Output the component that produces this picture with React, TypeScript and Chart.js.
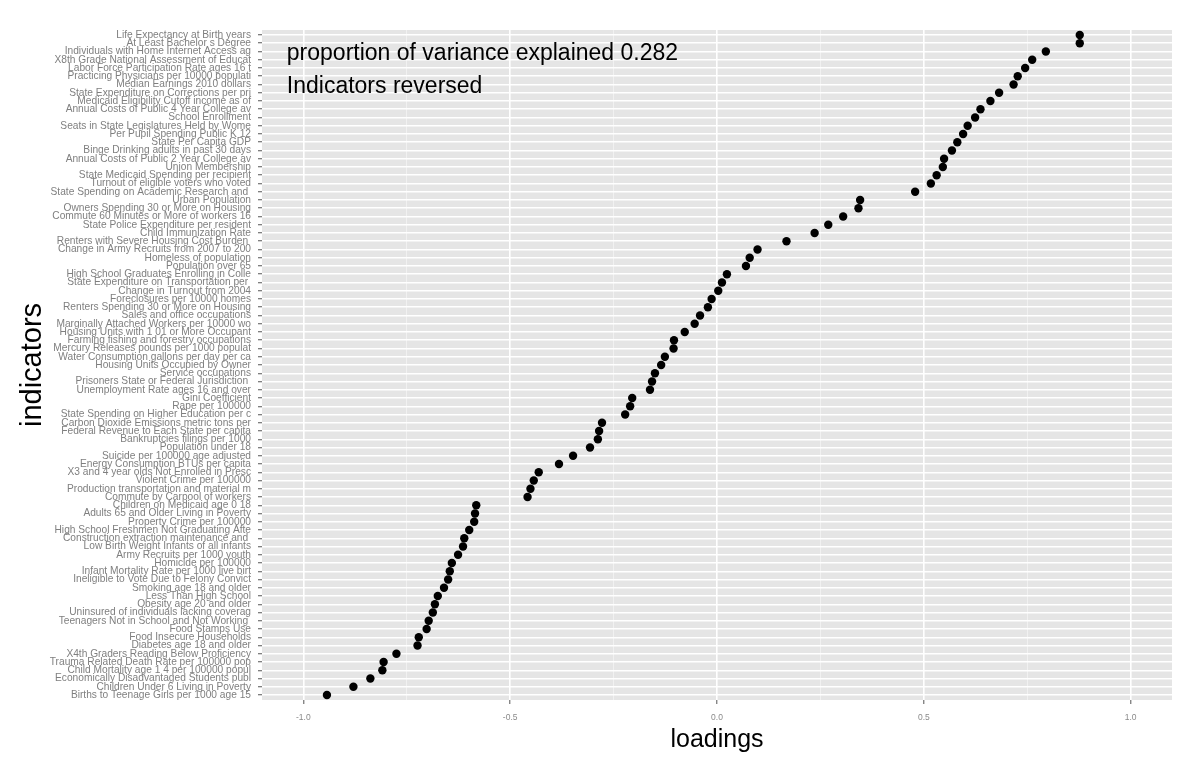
import React, { useEffect, useRef } from "react";
import { Chart, registerables } from "chart.js";

Chart.register(...registerables);

const indicators: string[] = [
  "Life Expectancy at Birth years",
  "At Least Bachelor s Degree",
  "Individuals with Home Internet Access ag",
  "X8th Grade National Assessment of Educat",
  "Labor Force Participation Rate ages 16 t",
  "Practicing Physicians per 10000 populati",
  "Median Earnings 2010 dollars",
  "State Expenditure on Corrections per pri",
  "Medicaid Eligibility Cutoff income as of",
  "Annual Costs of Public 4 Year College av",
  "School Enrollment",
  "Seats in State Legislatures Held by Wome",
  "Per Pupil Spending Public K 12",
  "State Per Capita GDP",
  "Binge Drinking adults in past 30 days",
  "Annual Costs of Public 2 Year College av",
  "Union Membership",
  "State Medicaid Spending per recipient",
  "Turnout of eligible voters who voted",
  "State Spending on Academic Research and ",
  "Urban Population",
  "Owners Spending 30 or More on Housing",
  "Commute 60 Minutes or More of workers 16",
  "State Police Expenditure per resident",
  "Child Immunization Rate",
  "Renters with Severe Housing Cost Burden ",
  "Change in Army Recruits from 2007 to 200",
  "Homeless of population",
  "Population over 65",
  "High School Graduates Enrolling in Colle",
  "State Expenditure on Transportation per ",
  "Change in Turnout from 2004",
  "Foreclosures per 10000 homes",
  "Renters Spending 30 or More on Housing",
  "Sales and office occupations",
  "Marginally Attached Workers per 10000 wo",
  "Housing Units with 1 01 or More Occupant",
  "Farming fishing and forestry occupations",
  "Mercury Releases pounds per 1000 populat",
  "Water Consumption gallons per day per ca",
  "Housing Units Occupied by Owner",
  "Service occupations",
  "Prisoners State or Federal Jurisdiction ",
  "Unemployment Rate ages 16 and over",
  "Gini Coefficient",
  "Rape per 100000",
  "State Spending on Higher Education per c",
  "Carbon Dioxide Emissions metric tons per",
  "Federal Revenue to Each State per capita",
  "Bankruptcies filings per 1000",
  "Population under 18",
  "Suicide per 100000 age adjusted",
  "Energy Consumption BTUs per capita",
  "X3 and 4 year olds Not Enrolled in Presc",
  "Violent Crime per 100000",
  "Production transportation and material m",
  "Commute by Carpool of workers",
  "Children on Medicaid age 0 18",
  "Adults 65 and Older Living in Poverty",
  "Property Crime per 100000",
  "High School Freshmen Not Graduating Afte",
  "Construction extraction maintenance and ",
  "Low Birth Weight Infants of all infants",
  "Army Recruits per 1000 youth",
  "Homicide per 100000",
  "Infant Mortality Rate per 1000 live birt",
  "Ineligible to Vote Due to Felony Convict",
  "Smoking age 18 and older",
  "Less Than High School",
  "Obesity age 20 and older",
  "Uninsured of individuals lacking coverag",
  "Teenagers Not in School and Not Working ",
  "Food Stamps Use",
  "Food Insecure Households",
  "Diabetes age 18 and older",
  "X4th Graders Reading Below Proficiency",
  "Trauma Related Death Rate per 100000 pop",
  "Child Mortality age 1 4 per 100000 popul",
  "Economically Disadvantaged Students publ",
  "Children Under 6 Living in Poverty",
  "Births to Teenage Girls per 1000 age 15",
];

const loadings: number[] = [
  0.877, 0.877, 0.795, 0.762, 0.745, 0.727, 0.717, 0.682, 0.661, 0.637,
  0.624, 0.606, 0.595, 0.581, 0.568, 0.549, 0.546, 0.531, 0.517, 0.479,
  0.346, 0.342, 0.305, 0.269, 0.236, 0.168, 0.098, 0.079, 0.07, 0.024,
  0.012, 0.003, -0.013, -0.022, -0.041, -0.054, -0.078, -0.104, -0.105, -0.126,
  -0.135, -0.15, -0.157, -0.162, -0.205, -0.21, -0.222, -0.278, -0.285, -0.288,
  -0.307, -0.348, -0.382, -0.431, -0.443, -0.451, -0.458, -0.582, -0.585, -0.587,
  -0.599, -0.611, -0.614, -0.626, -0.641, -0.646, -0.65, -0.66, -0.675, -0.682,
  -0.687, -0.697, -0.702, -0.721, -0.724, -0.775, -0.806, -0.809, -0.838, -0.879,
  -0.943,
];

const xMajorTicks: number[] = [-1, -0.5, 0, 0.5, 1];
const xMinorTicks: number[] = [-0.75, -0.25, 0.25, 0.75];
const annotationLines: string[] = [
  "proportion of variance explained 0.282",
  "Indicators reversed",
];

const FONT = "'Liberation Sans', Arial, sans-serif";

const isMajor = (v: number) => xMajorTicks.some((m) => Math.abs(m - v) < 1e-9);

export default function App() {
  const canvasRef = useRef<HTMLCanvasElement | null>(null);

  useEffect(() => {
    document.body.style.margin = "0";
    const canvas = canvasRef.current;
    if (!canvas) return;

    const bgPlugin = {
      id: "panelBg",
      beforeDraw(chart: any) {
        const { ctx, chartArea } = chart;
        ctx.save();
        ctx.fillStyle = "#E5E5E5";
        ctx.fillRect(
          chartArea.left,
          chartArea.top,
          chartArea.right - chartArea.left,
          chartArea.bottom - chartArea.top
        );
        ctx.restore();
      },
    };

    const textPlugin = {
      id: "annot",
      afterDatasetsDraw(chart: any) {
        const { ctx, scales } = chart;
        const x = scales.x.getPixelForValue(-1.04);
        ctx.save();
        ctx.fillStyle = "#000000";
        ctx.font = `23px ${FONT}`;
        ctx.textAlign = "left";
        ctx.textBaseline = "middle";
        ctx.fillText(annotationLines[0], x, scales.y.getPixelForValue(2.25));
        ctx.fillText(annotationLines[1], x, scales.y.getPixelForValue(6.25));
        ctx.restore();
      },
    };

    const chart = new Chart(canvas, {
      type: "scatter",
      data: {
        datasets: [
          {
            data: loadings.map((v, i) => ({ x: v, y: i })),
            backgroundColor: "#000000",
            borderColor: "#000000",
            borderWidth: 0,
            pointRadius: 4.2,
            pointHoverRadius: 4.2,
          },
        ],
      },
      options: {
        animation: false,
        responsive: true,
        maintainAspectRatio: false,
        devicePixelRatio: 1,
        layout: { padding: { left: 0, right: 28, top: 30, bottom: 0 } },
        plugins: {
          legend: { display: false },
          tooltip: { enabled: false },
        },
        scales: {
          x: {
            type: "linear",
            min: -1.1,
            max: 1.1,
            afterBuildTicks(scale: any) {
              scale.ticks = [...xMajorTicks, ...xMinorTicks]
                .sort((a, b) => a - b)
                .map((v) => ({ value: v }));
            },
            afterFit(scale: any) {
              scale.height = 70;
            },
            border: { display: false },
            grid: {
              color: (c: any) => (isMajor(c.tick.value) ? "#FFFFFF" : "#F2F2F2"),
              lineWidth: (c: any) => (isMajor(c.tick.value) ? 1.6 : 0.9),
              tickColor: (c: any) => (isMajor(c.tick.value) ? "#555555" : "rgba(0,0,0,0)"),
              tickLength: 4,
              tickWidth: 1,
            },
            ticks: {
              autoSkip: false,
              maxRotation: 0,
              padding: 9,
              color: "#8A8A8A",
              font: { family: FONT, size: 8.5 },
              callback: (v: any) => (isMajor(Number(v)) ? Number(v).toFixed(1) : ""),
            },
            title: {
              display: true,
              text: "loadings",
              color: "#000000",
              font: { family: FONT, size: 25 },
              padding: { top: 0, bottom: 15 },
            },
          },
          y: {
            type: "linear",
            reverse: true,
            min: -0.6,
            max: indicators.length - 1 + 0.6,
            afterBuildTicks(scale: any) {
              scale.ticks = indicators.map((_, i) => ({ value: i }));
            },
            afterFit(scale: any) {
              scale.width = 262;
            },
            border: { display: false },
            grid: {
              color: "#FFFFFF",
              lineWidth: 1.5,
              tickColor: "#555555",
              tickLength: 4,
              tickWidth: 1,
            },
            ticks: {
              autoSkip: false,
              padding: 7,
              color: "#7F7F7F",
              font: { family: FONT, size: 10.2, lineHeight: 1 },
              callback: (v: any) => indicators[Number(v)] ?? "",
            },
            title: {
              display: true,
              text: "indicators",
              color: "#000000",
              font: { family: FONT, size: 29 },
              padding: { top: 16, bottom: 0 },
            },
          },
        },
      },
      plugins: [bgPlugin, textPlugin],
    } as any);

    return () => chart.destroy();
  }, []);

  return (
    <div style={{ width: 1200, height: 770, position: "relative" }}>
      <canvas ref={canvasRef} />
    </div>
  );
}
